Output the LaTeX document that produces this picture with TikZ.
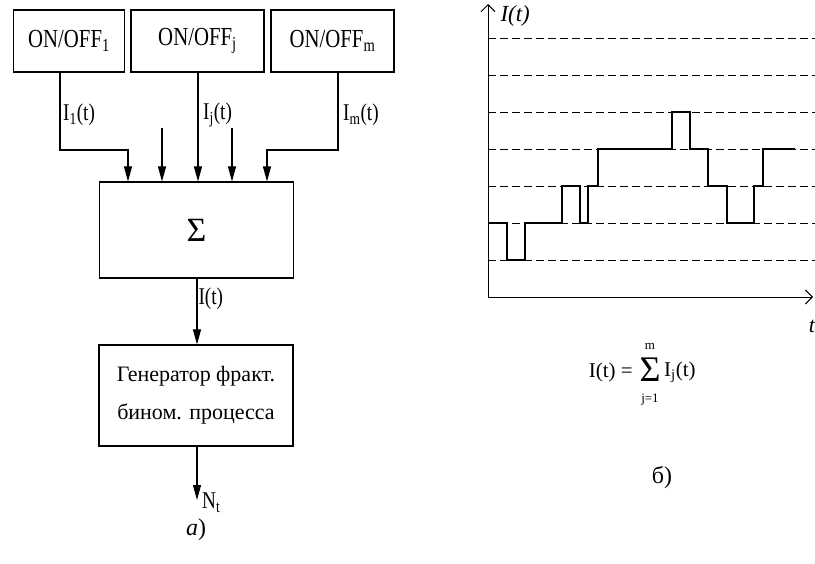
\documentclass[tikz,border=0pt]{standalone}
\usepackage{fontspec}
\setmainfont{Liberation Serif}
\newfontfamily\narrowfont[FakeStretch=0.8]{Liberation Serif}
\usetikzlibrary{arrows.meta}

\begin{document}
\begin{tikzpicture}[x=1pt, y=-1pt,
  box/.style={draw, line width=1.1pt, inner sep=0pt, minimum height=62pt},
  srcbox/.style={box, font=\narrowfont\fontsize{26}{28}\selectfont},
  blk/.style={draw, line width=1.1pt, inner sep=0pt, align=center,
              minimum width=194pt},
  arr/.style={-{Triangle[length=15pt,width=8pt]}, line width=1.1pt},
  lbl/.style={font=\narrowfont\fontsize{24}{26}\selectfont, inner sep=1pt},
  axis/.style={-{Straight Barb[length=7pt,width=14pt]}, line width=0.9pt},
  grid/.style={dashed, dash pattern=on 8pt off 4pt, line width=0.8pt},
  sig/.style={line width=2.4pt},
  fml/.style={font=\fontsize{21}{23}\selectfont, inner sep=0pt},
  lim/.style={font=\fontsize{13}{14}\selectfont, inner sep=0pt}
]
  \useasboundingbox (0,0) rectangle (815,564);

  % Left: sources
  \node[srcbox, minimum width=111pt] (src1) at ( 69,41) {ON/OFF\textsubscript{1}};
  \node[srcbox, minimum width=133pt] (srcj) at (197.5,41) {ON/OFF\textsubscript{j}};
  \node[srcbox, minimum width=123pt] (srcm) at (332.5,41) {ON/OFF\textsubscript{m}};

  % Left: summator and generator
  \node[blk, minimum height=96pt, font=\fontsize{34}{36}\selectfont] (sum) at (196.5,230) {Σ};
  \node[blk, minimum height=101pt, font=\fontsize{22}{38}\selectfont] (gen) at (196,395.5)
       {Генератор фракт.\\бином. процесса};

  % Free ends
  \coordinate (extra1) at (162,128);
  \coordinate (extra2) at (232,128);
  \coordinate (out) at (197,500);

  % Inputs
  \draw[arr] (src1.south -| 60,0) |- (128,150) -- (sum.north -| 128,0);
  \draw[arr] (extra1) -- (sum.north -| extra1);
  \draw[arr] (srcj.south -| 198,0) -- (sum.north -| 198,0);
  \draw[arr] (extra2) -- (sum.north -| extra2);
  \draw[arr] (srcm.south -| 338,0) |- (267,150) -- (sum.north -| 267,0);

  \node[lbl, anchor=west] (l1) at (62,115) {I\textsubscript{1}(t)};
  \node[lbl, anchor=west] (lj) at (202,115) {I\textsubscript{j}(t)};
  \node[lbl, anchor=west] (lm) at (342,115) {I\textsubscript{m}(t)};

  % Output chain
  \draw[arr] (sum.south -| 197,0) -- node[lbl, anchor=west, pos=0.3] (li) {I(t)} (gen.north -| 197,0);
  \draw[arr] (gen.south -| 197,0) -- (out);
  \node[lbl, anchor=west] (lN) at (201,503) {N\textsubscript{t}};
  \node[font=\fontsize{24}{26}\selectfont] (capa) at (196,530) {\textit{a})};

  % Right: time diagram
  \coordinate (o) at (488,297);
  \foreach \k in {1,...,7}
    \draw[grid] (488,297-37*\k) -- (815,297-37*\k);
  \draw[axis] (o) -- (488,4);
  \draw[axis] (o) -- (813,297);
  \node[font=\itshape\fontsize{23}{25}\selectfont, anchor=west] (ylab) at (497,16) {I(t)};
  \node[font=\itshape\fontsize{22}{24}\selectfont] (xlab) at (812,326) {t};

  % Aggregate signal
  \draw[sig] (488,223) -| (507,260) -| (525,223) -| (562,186) -| (580,223)
    -| (588,186) -| (598,149) -| (672,112) -| (690,149) -| (708,186)
    -| (727,223) -| (754,186) -| (763,149) -- (795,149);

  % Sum formula
  \node[fml, anchor=east] (fl) at (633,372) {I(t) =};
  \node[font=\fontsize{36}{36}\selectfont, inner sep=0pt,
        text height=24pt, text depth=0pt] (fsum) at (650,370) {Σ};
  \node[lim] (fup) at (650,346) {m};
  \node[lim] (flo) at (650,400) {j=1};
  \node[fml, anchor=west] (fr) at (664,372) {I\textsubscript{j}(t)};

  \node[font=\fontsize{24}{26}\selectfont] (capb) at (662,477) {б)};
\end{tikzpicture}
\end{document}
